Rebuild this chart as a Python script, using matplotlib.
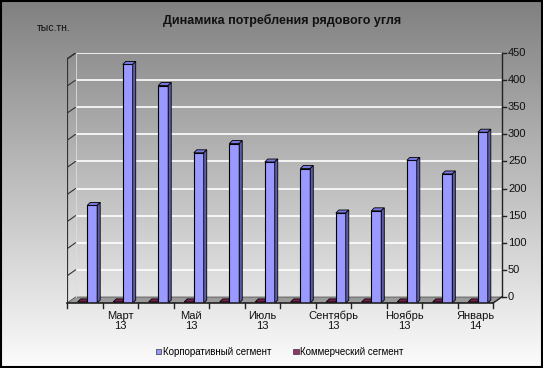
import numpy as np
import matplotlib
matplotlib.use("Agg")
import matplotlib.pyplot as plt
from matplotlib.patches import Polygon, Rectangle, Patch

plt.rcParams['font.family'] = ['Liberation Sans', 'DejaVu Sans']

# ---- data ----
months = ["Февраль 13", "Март 13", "Апрель 13", "Май 13", "Июнь 13", "Июль 13",
          "Август 13", "Сентябрь 13", "Октябрь 13", "Ноябрь 13", "Декабрь 13", "Январь 14"]
tick_labels = ["", "Март\n13", "", "Май\n13", "", "Июль\n13",
               "", "Сентябрь\n13", "", "Ноябрь\n13", "", "Январь\n14"]
corporate = [180, 440, 401, 277, 294, 260, 248, 166, 170, 263, 238, 315]
commercial = [2, 2, 2, 2, 2, 2, 2, 2, 2, 2, 2, 2]
y_ticks = [0, 50, 100, 150, 200, 250, 300, 350, 400, 450]

W, H = 543, 368
fig = plt.figure(figsize=(W / 100, H / 100), dpi=100)

# background gradient
bg = fig.add_axes([0, 0, 1, 1])
grad = np.linspace(0x80, 0xfc, 256)[:, None] / 255.0
bg.imshow(np.dstack([grad, grad, grad]), aspect='auto', extent=[0, 1, 0, 1])
bg.add_patch(Rectangle((0.001, 0.002), 0.997, 0.995, transform=bg.transAxes,
                       fill=False, edgecolor='black', lw=1.5))
bg.axis('off')

# plot area: front plane x 0..12, depth offset (dx, dy)
dx, dy = 0.24, 11
ax = fig.add_axes([67 / W, 65 / H, 435 / W, 250 / H])
ax.set_xlim(0, 12.25)
ax.set_ylim(0, 461)
ax.axis('off')
n = len(months)

# floor
ax.add_patch(Polygon([(0, 0), (n, 0), (n + dx, dy), (dx, dy)], closed=True,
                     facecolor='#9a9a9a', edgecolor='#555555', lw=0.6, zorder=1))
# gridlines on back wall and left wall
for v in y_ticks[1:]:
    ax.plot([dx, n + dx], [v + dy, v + dy], color='white', lw=1.2, zorder=1)
    ax.plot([0, dx], [v, v + dy], color='#333333', lw=0.8, zorder=1)
ax.plot([dx, dx], [dy, 450 + dy], color='#dddddd', lw=0.6, zorder=1)
# left wall edge
ax.plot([0, 0], [0, 450], color='#333333', lw=1.6, zorder=2)
ax.plot([0, dx], [450, 450 + dy], color='#333333', lw=1.0, zorder=2)

# right value axis (back plane)
ax.plot([n + dx, n + dx], [dy, 450 + dy], color='#222222', lw=1.0, zorder=2, clip_on=False)
ax.plot([n, n + dx], [0, dy], color='#222222', lw=1.0, zorder=2, clip_on=False)
for v in y_ticks:
    ax.plot([n + dx, n + dx + 0.12], [v + dy, v + dy], color='#222222', lw=1.0, clip_on=False)
    ax.text(n + dx + 0.18, v + dy, str(v), fontsize=8, va='center', ha='left', color='#111111')

# category axis at front edge
ax.plot([0, n], [0, 0], color='#222222', lw=1.2, zorder=5, clip_on=False)
for i in range(n + 1):
    ax.plot([i, i], [0, -9], color='#222222', lw=1.0, clip_on=False)
for i, lab in enumerate(tick_labels):
    if lab:
        ax.text(i + 0.5, -14, lab, fontsize=8, ha='center', va='top',
                linespacing=1.05, color='#111111')


def bar3d(x0, w, v, front, top, side, z):
    bdx, bdy = 0.085, 5.5
    ax.add_patch(Rectangle((x0, 0), w, v, facecolor=front, edgecolor='black', lw=0.8, zorder=z))
    ax.add_patch(Polygon([(x0, v), (x0 + w, v), (x0 + w + bdx, v + bdy), (x0 + bdx, v + bdy)],
                         closed=True, facecolor=top, edgecolor='black', lw=0.6, zorder=z))
    ax.add_patch(Polygon([(x0 + w, 0), (x0 + w + bdx, bdy), (x0 + w + bdx, v + bdy), (x0 + w, v)],
                         closed=True, facecolor=side, edgecolor='black', lw=0.6, zorder=z))


for i in range(n):
    bar3d(i + 0.30, 0.26, commercial[i], '#993366', '#7a1f4d', '#661a40', 3)
    bar3d(i + 0.57, 0.28, corporate[i], '#9999ff', '#7777dd', '#5c5ca8', 4)

fig.text(282 / W, 1 - 20 / H, "Динамика потребления рядового угля", fontsize=9,
         fontweight='bold', ha='center', va='center', color='#111111')
fig.text(37 / W, 1 - 28 / H, "тыс.тн.", fontsize=7.5, ha='left', va='center', color='#111111')

handles = [Patch(facecolor='#9999ff', edgecolor='#333333', lw=0.5),
           Patch(facecolor='#993366', edgecolor='#333333', lw=0.5)]
fig.legend(handles, ["Корпоративный сегмент", "Коммерческий сегмент"],
           loc='center', bbox_to_anchor=(280 / W, 1 - 352 / H), ncol=2, frameon=False,
           fontsize=7, handlelength=0.55, handleheight=0.55, handletextpad=0.2,
           columnspacing=2.2)

fig.savefig("out.png", dpi=100)
